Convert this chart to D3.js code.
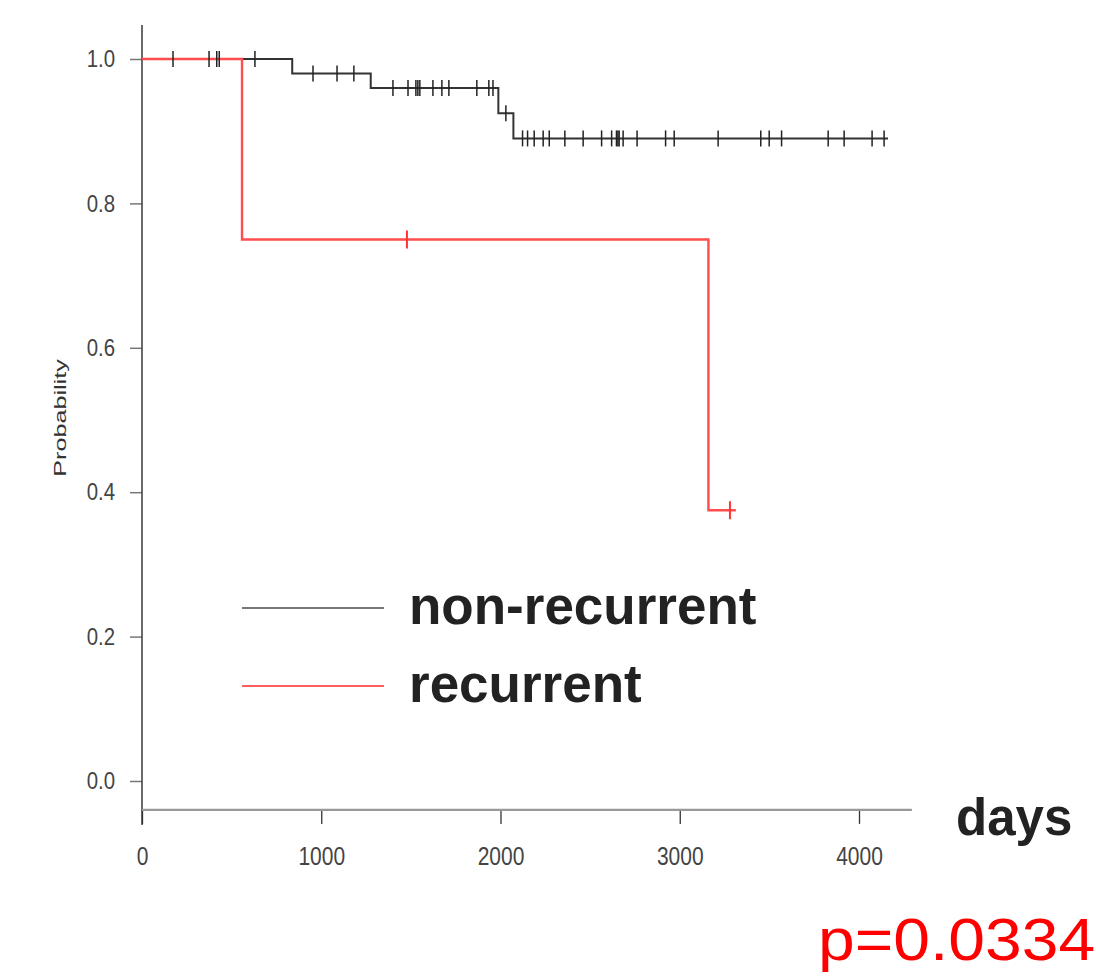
<!DOCTYPE html>
<html>
<head>
<meta charset="utf-8">
<script src="https://cdn.jsdelivr.net/npm/d3@7"></script>
<style>
  body { margin: 0; background: #fff; }
  svg { display: block; font-family: "Liberation Sans", Arial, sans-serif; }
</style>
</head>
<body>
<div id="chart"></div>
<script>
// Kaplan-Meier data (days, probability)
var nonRecTimes = [0, 838, 1276, 1988, 2072];
var nonRecSurv  = [1.0, 0.980, 0.960, 0.925, 0.890];
var nonRecEnd   = 4162;
var nonRecCensored = [173, 374, 417, 431, 630,
                      954, 1088, 1182,
                      1400, 1484, 1528, 1539, 1550, 1623, 1673, 1712, 1868, 1935, 1958,
                      2030,
                      2123, 2151, 2188, 2238, 2272, 2359, 2461, 2564, 2620, 2647, 2655, 2662,
                      2684, 2762, 2921, 2969, 3214, 3452, 3499, 3568, 3828, 3917, 4073, 4140];

var recTimes = [0, 558, 3160];
var recSurv  = [1.0, 0.75, 0.375];
var recEnd   = 3313;
var recCensored = [1478, 3280];

var xTicks = [0, 1000, 2000, 3000, 4000];
var yTicks = [0, 0.2, 0.4, 0.6, 0.8, 1.0];
var legendLabels = ["non-recurrent", "recurrent"];
var pValue = "p=0.0334";

var width = 1096, height = 980;

var svg = d3.select("#chart").append("svg")
    .attr("width", width)
    .attr("height", height);

var x = d3.scaleLinear().domain([0, 4000]).range([142, 859]);
var y = d3.scaleLinear().domain([0, 1]).range([781, 59]);

// step function lookup
function survAt(times, surv, t) {
  var i = d3.bisectRight(times, t) - 1;
  return surv[Math.max(0, i)];
}

function stepPoints(times, surv, end) {
  var pts = times.map(function(t, i) { return [t, surv[i]]; });
  pts.push([end, surv[surv.length - 1]]);
  return pts;
}

var line = d3.line()
    .x(function(d) { return x(d[0]); })
    .y(function(d) { return y(d[1]); })
    .curve(d3.curveStepAfter);

// y-axis
var yAxis = svg.append("g")
    .attr("transform", "translate(" + x(0) + ",0)")
    .call(d3.axisLeft(y).tickValues(yTicks).tickFormat(d3.format(".1f"))
          .tickSize(12).tickSizeOuter(0));
yAxis.select(".domain").remove();
yAxis.selectAll(".tick line").attr("stroke", "#777").attr("stroke-width", 1.5);
yAxis.selectAll(".tick text")
    .attr("x", 0)
    .attr("transform", "translate(-27,0) scale(0.85,1)")
    .style("font-size", "24px")
    .style("fill", "#444");
svg.append("line")
    .attr("x1", x(0)).attr("x2", x(0))
    .attr("y1", y(1.047)).attr("y2", y(-0.061))
    .attr("stroke", "#444").attr("stroke-width", 1.6);

// x-axis (detached, R style)
var xAxisY = y(-0.04);
var xAxis = svg.append("g")
    .attr("transform", "translate(0," + xAxisY + ")")
    .call(d3.axisBottom(x).tickValues(xTicks).tickFormat(d3.format("d"))
          .tickSize(14).tickSizeOuter(0));
xAxis.select(".domain").remove();
xAxis.selectAll(".tick line").attr("stroke", "#333").attr("stroke-width", 1.3);
xAxis.selectAll(".tick text")
    .attr("y", 55).attr("dy", 0)
    .attr("transform", "scale(0.84,1)")
    .style("font-size", "25px")
    .style("fill", "#444");
svg.append("line")
    .attr("x1", x(0)).attr("x2", x(4295))
    .attr("y1", xAxisY).attr("y2", xAxisY)
    .attr("stroke", "#999").attr("stroke-width", 2.2);

svg.append("text")
    .attr("transform", "translate(66,418) rotate(-90) scale(1.48,1)")
    .attr("text-anchor", "middle")
    .style("font-size", "17px")
    .style("fill", "#333")
    .text("Probability");

// curves
svg.append("path")
    .datum(stepPoints(nonRecTimes, nonRecSurv, nonRecEnd))
    .attr("d", line)
    .attr("fill", "none")
    .attr("stroke", "#333")
    .attr("stroke-width", 2);

svg.append("path")
    .datum(stepPoints(recTimes, recSurv, recEnd))
    .attr("d", line)
    .attr("fill", "none")
    .attr("stroke", "#ff4d4d")
    .attr("stroke-width", 2.4);

// censor marks
svg.selectAll(".cens-black")
    .data(nonRecCensored)
  .enter().append("line")
    .attr("class", "cens-black")
    .attr("x1", function(d) { return x(d); })
    .attr("x2", function(d) { return x(d); })
    .attr("y1", function(d) { return y(survAt(nonRecTimes, nonRecSurv, d)) - 8; })
    .attr("y2", function(d) { return y(survAt(nonRecTimes, nonRecSurv, d)) + 8; })
    .attr("stroke", "#222")
    .attr("stroke-width", 1.5);

svg.selectAll(".cens-red")
    .data(recCensored)
  .enter().append("line")
    .attr("class", "cens-red")
    .attr("x1", function(d) { return x(d); })
    .attr("x2", function(d) { return x(d); })
    .attr("y1", function(d) { return y(survAt(recTimes, recSurv, d)) - 9; })
    .attr("y2", function(d) { return y(survAt(recTimes, recSurv, d)) + 9; })
    .attr("stroke", "#ff3333")
    .attr("stroke-width", 2);

// legend
var legendColors = ["#777", "#ff5f5f"];
var legendY = [608, 686];
var legend = svg.selectAll(".legend")
    .data(legendLabels)
  .enter().append("g")
    .attr("class", "legend")
    .attr("transform", function(d, i) { return "translate(0," + legendY[i] + ")"; });
legend.append("line")
    .attr("x1", 242).attr("x2", 384)
    .attr("stroke", function(d, i) { return legendColors[i]; })
    .attr("stroke-width", 2);
legend.append("text")
    .attr("x", 409)
    .attr("y", 16)
    .style("font-size", "53px")
    .style("font-weight", "bold")
    .style("fill", "#222")
    .text(function(d) { return d; });

svg.append("text")
    .attr("x", 956).attr("y", 835)
    .style("font-size", "51px")
    .style("font-weight", "bold")
    .style("fill", "#222")
    .text("days");

// p-value kept just inside the right edge
svg.append("text")
    .attr("transform", "translate(818,960) scale(1.1,1)")
    .style("font-size", "60px")
    .style("fill", "#ff0000")
    .text(pValue);
</script>
</body>
</html>
